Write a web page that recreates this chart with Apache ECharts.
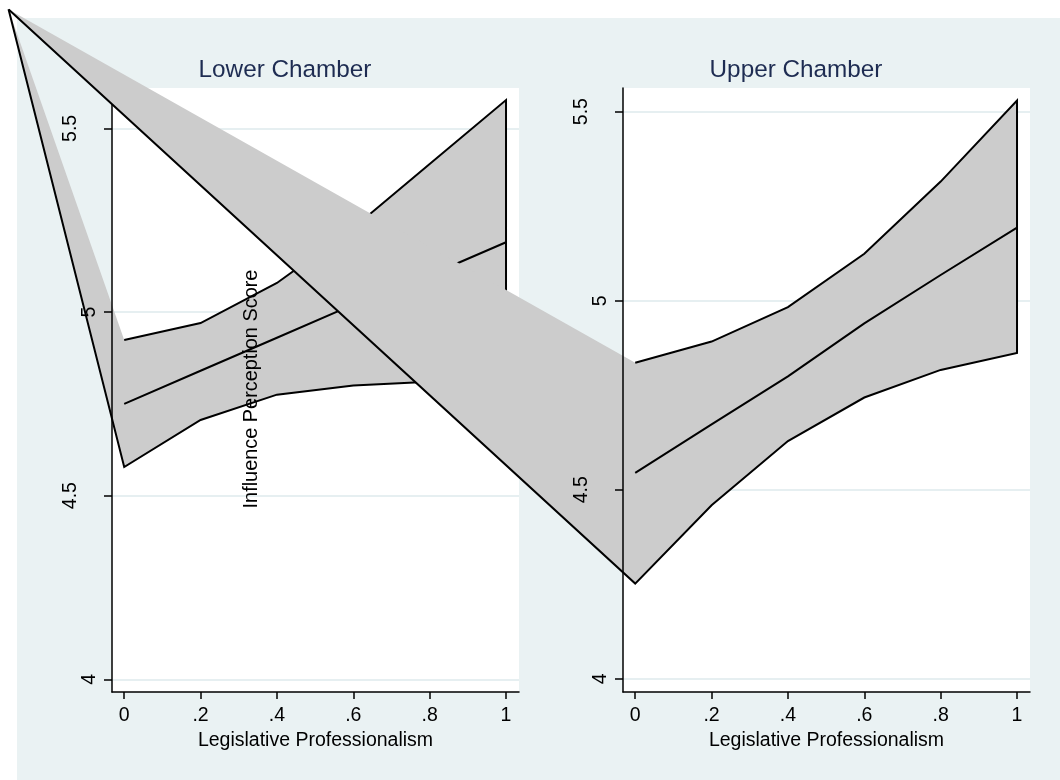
<!DOCTYPE html>
<html>
<head>
<meta charset="utf-8">
<script src="https://cdn.jsdelivr.net/npm/echarts@6/dist/echarts.min.js"></script>
<style>
  html, body { margin: 0; padding: 0; background: #fff; }
  #main { width: 1060px; height: 780px; }
</style>
</head>
<body>
<div id="main"></div>
<script>
// x positions (legislative professionalism) and tick values
const xValues = [0, 0.2, 0.4, 0.6, 0.8, 1];
const xTicks = [0, 0.2, 0.4, 0.6, 0.8, 1];
const yTicks = [4, 4.5, 5, 5.5];

// Lower chamber: predicted score with its confidence band
const lowerMean = [4.75, 4.84, 4.93, 5.02, 5.10, 5.19];
const lowerHi = [4.924, 4.97, 5.079, 5.229, 5.403, 5.577];
const lowerLo = [4.578, 4.706, 4.775, 4.80, 4.81, 4.81];
// stray point the band polygon closes on (top-left corner of the figure)
const lowerStray = [-0.303, 5.824];

// Upper chamber
const upperMean = [4.545, 4.673, 4.80, 4.94, 5.068, 5.193];
const upperHi = [4.836, 4.892, 4.983, 5.124, 5.315, 5.529];
const upperLo = [4.252, 4.459, 4.629, 4.744, 4.817, 4.862];
const upperStray = [-1.641, 5.770];

const FONT = '"Liberation Sans", Arial, sans-serif';

var chart = echarts.init(document.getElementById('main'));

function bandRenderer(hi, lo, stray) {
  return function (params, api) {
    const top = xValues.map((x, i) => api.coord([x, hi[i]]));
    const bottom = xValues.map((x, i) => api.coord([x, lo[i]])).reverse();
    const corner = api.coord(stray);
    return {
      type: 'group',
      children: [
        {
          type: 'polygon',
          shape: { points: [corner].concat(top, bottom) },
          style: { fill: '#cccccc', stroke: null }
        },
        {
          type: 'polyline',
          shape: { points: top.concat(bottom, [corner]) },
          style: { stroke: '#000', lineWidth: 2, fill: null }
        }
      ]
    };
  };
}

function fmtX(v) {
  return String(+v.toFixed(1)).replace(/^0\./, '.');
}

function xAxisFor(gridIndex, z) {
  return {
    type: 'value',
    gridIndex: gridIndex,
    min: -0.032,
    max: 1.034,
    z: z,
    name: 'Legislative Professionalism',
    nameLocation: 'middle',
    nameGap: 33,
    nameTextStyle: { color: '#000', fontSize: 19.5, fontFamily: FONT },
    axisLine: { show: true, onZero: false, lineStyle: { color: '#000', width: 1.5 } },
    axisTick: { show: true, length: 7, customValues: xTicks, lineStyle: { color: '#000', width: 1.5 } },
    axisLabel: {
      customValues: xTicks, margin: 14, color: '#000',
      fontSize: 19.5, fontFamily: FONT, formatter: fmtX
    },
    splitLine: { show: false }
  };
}

function yAxisFor(gridIndex, max, z) {
  return {
    type: 'value',
    gridIndex: gridIndex,
    min: 3.9654,
    max: max,
    z: z,
    axisLine: { show: true, onZero: false, lineStyle: { color: '#000', width: 1.5 } },
    axisTick: { show: true, length: 8, customValues: yTicks, lineStyle: { color: '#000', width: 1.5 } },
    axisLabel: {
      customValues: yTicks,
      rotate: 90,
      margin: 12,
      formatter: (v) => (String(v).length > 1 ? '{w|' + v + '}' : '{n|' + v + '}'),
      rich: {
        w: { color: '#000', fontSize: 19.5, fontFamily: FONT, padding: [0, 0, 19, 0] },
        n: { color: '#000', fontSize: 19.5, fontFamily: FONT }
      }
    },
    splitLine: { show: false }
  };
}

// axis that only carries the light grid lines, kept under the bands
function gridLineAxis(gridIndex, max) {
  return {
    type: 'value',
    gridIndex: gridIndex,
    min: 3.9654,
    max: max,
    z: 0,
    axisLine: { show: false },
    axisTick: { show: false, customValues: yTicks },
    axisLabel: { show: false, customValues: yTicks },
    splitLine: { show: true, lineStyle: { color: '#e6eff1', width: 2 } }
  };
}

var option = {
  animation: false,
  backgroundColor: '#ffffff',
  graphic: [
    {
      type: 'rect', z: -100, silent: true,
      shape: { x: 17, y: 18, width: 1043, height: 762 },
      style: { fill: '#eaf2f3' }
    },
    {
      type: 'text', x: 285, y: 70, z: 100,
      style: {
        text: 'Lower Chamber', fill: '#1e2c52', font: '24.3px ' + FONT,
        align: 'center', verticalAlign: 'middle', textAlign: 'center', textVerticalAlign: 'middle'
      }
    },
    {
      type: 'text', x: 796, y: 70, z: 100,
      style: {
        text: 'Upper Chamber', fill: '#1e2c52', font: '24.3px ' + FONT,
        align: 'center', verticalAlign: 'middle', textAlign: 'center', textVerticalAlign: 'middle'
      }
    },
    {
      type: 'text', x: 252, y: 389, z: 100, rotation: Math.PI / 2,
      style: {
        text: 'Influence Perception Score', fill: '#000', font: '19.9px ' + FONT,
        align: 'center', verticalAlign: 'middle', textAlign: 'center', textVerticalAlign: 'middle'
      }
    }
  ],
  grid: [
    { left: 112, top: 88, width: 407, height: 604, show: true, backgroundColor: '#ffffff', borderWidth: 0 },
    { left: 623, top: 88, width: 407, height: 604, show: true, backgroundColor: '#ffffff', borderWidth: 0 }
  ],
  xAxis: [xAxisFor(0, 2), xAxisFor(1, 5)],
  yAxis: [
    yAxisFor(0, 5.6099, 2),
    gridLineAxis(0, 5.6099),
    yAxisFor(1, 5.5624, 5),
    gridLineAxis(1, 5.5624)
  ],
  series: [
    {
      type: 'custom', name: 'Lower band', xAxisIndex: 0, yAxisIndex: 0,
      z: 1, clip: false, silent: true, data: [[0, 5]],
      renderItem: bandRenderer(lowerHi, lowerLo, lowerStray)
    },
    {
      type: 'line', name: 'Lower mean', xAxisIndex: 0, yAxisIndex: 0, z: 3,
      symbol: 'none', silent: true,
      lineStyle: { color: '#000', width: 2 },
      data: xValues.map((x, i) => [x, lowerMean[i]])
    },
    {
      type: 'custom', name: 'Upper band', xAxisIndex: 1, yAxisIndex: 2,
      z: 4, clip: false, silent: true, data: [[0, 5]],
      renderItem: bandRenderer(upperHi, upperLo, upperStray)
    },
    {
      type: 'line', name: 'Upper mean', xAxisIndex: 1, yAxisIndex: 2, z: 6,
      symbol: 'none', silent: true,
      lineStyle: { color: '#000', width: 2 },
      data: xValues.map((x, i) => [x, upperMean[i]])
    }
  ]
};

option && chart.setOption(option);
</script>
</body>
</html>
